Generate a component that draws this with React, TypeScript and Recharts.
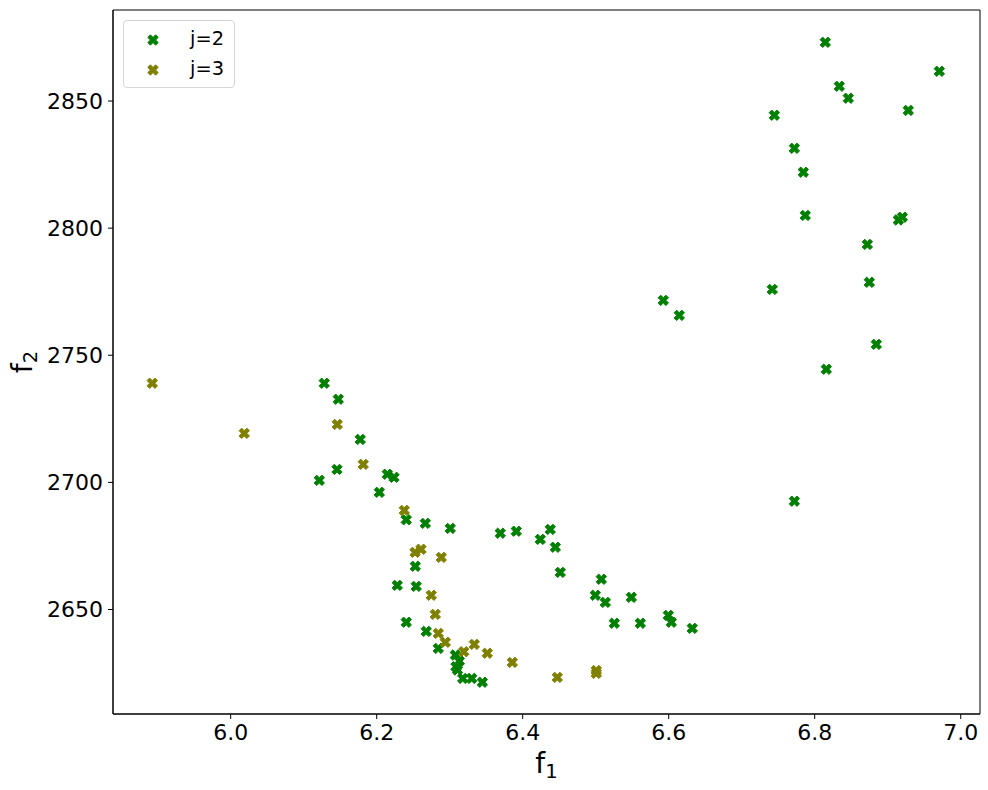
import { ScatterChart, Scatter, XAxis, YAxis, ReferenceArea, Legend } from 'recharts'

// j=2 series (green)
const j2F1 = [
  6.1282, 6.1474, 6.1775, 6.1456, 6.1214, 6.2145, 6.2237, 6.2036, 6.2405, 6.2666,
  6.3008, 6.2529, 6.2282, 6.2542, 6.2405, 6.2679, 6.2844, 6.3077, 6.3132, 6.3086,
  6.3107, 6.3178, 6.3301, 6.3447, 6.3693, 6.3912, 6.4241, 6.4378, 6.4447, 6.4515,
  6.5077, 6.4995, 6.5132, 6.5488, 6.5255, 6.5611, 6.5995, 6.6036, 6.6323, 6.8145,
  6.9707, 6.8337, 6.846, 6.9282, 6.7447, 6.7721, 6.7844, 6.7871, 6.9145, 6.92,
  6.8721, 6.8748, 6.7419, 6.5926, 6.6145, 6.8844, 6.8159, 6.7721,
]
const j2F2 = [
  2739.0, 2732.7, 2716.9, 2705.1, 2700.8, 2703.2, 2702.0, 2696.1, 2685.3, 2683.9,
  2681.9, 2667.0, 2659.5, 2659.1, 2645.0, 2641.4, 2634.7, 2632.1, 2629.7, 2627.5,
  2626.2, 2622.9, 2622.9, 2621.4, 2680.0, 2680.8, 2677.6, 2681.5, 2674.5, 2664.6,
  2661.9, 2655.6, 2652.8, 2654.8, 2644.6, 2644.6, 2647.7, 2645.0, 2642.6, 2873.1,
  2861.7, 2855.8, 2851.1, 2846.3, 2844.4, 2831.4, 2822.0, 2805.0, 2803.2, 2804.3,
  2793.6, 2778.7, 2775.9, 2771.6, 2765.7, 2754.3, 2744.5, 2692.6,
]

// j=3 series (olive)
const j3F1 = [
  5.8926, 6.0186, 6.146, 6.1816, 6.2378, 6.2525, 6.2607, 6.2885, 6.2748, 6.2803,
  6.2844, 6.294, 6.3337, 6.3192, 6.3515, 6.3858, 6.4474, 6.5008, 6.5008,
]
const j3F2 = [
  2739.0, 2719.3, 2722.8, 2707.1, 2689.0, 2672.5, 2673.7, 2670.5, 2655.6, 2648.1,
  2640.6, 2637.1, 2636.3, 2633.4, 2632.8, 2629.2, 2623.3, 2626.0, 2624.9,
]

const xTicks = [6.0, 6.2, 6.4, 6.6, 6.8, 7.0]
const yTicks = [2650, 2700, 2750, 2800, 2850]
const xDomain: [number, number] = [5.8388, 7.0264]
const yDomain: [number, number] = [2608.9, 2885.8]

const seriesNames = ['j=2', 'j=3']
const seriesColors = ['#008000', '#808000']

const FONT = '"DejaVu Sans", sans-serif'
const MARKER = 11

const toPoints = (xs: number[], ys: number[]) => xs.map((x, i) => ({ f1: x, f2: ys[i] }))
const j2Data = toPoints(j2F1, j2F2)
const j3Data = toPoints(j3F1, j3F2)

// matplotlib style filled "X" marker: a plus rotated by 45 degrees
function xMarkerPath(cx: number, cy: number, s: number) {
  const L = s / 2
  const w = s / 6
  const pts = [
    [L, w], [w, w], [w, L], [-w, L], [-w, w], [-L, w],
    [-L, -w], [-w, -w], [-w, -L], [w, -L], [w, -w], [L, -w],
  ]
  const c = Math.SQRT1_2
  return pts
    .map(([px, py], i) => {
      const rx = (px - py) * c
      const ry = (px + py) * c
      return `${i === 0 ? 'M' : 'L'}${(cx + rx).toFixed(2)},${(cy + ry).toFixed(2)}`
    })
    .join(' ') + ' Z'
}

const makeShape = (color: string) => (props: any) => {
  const { cx, cy } = props
  if (cx == null || cy == null) return <g />
  return <path d={xMarkerPath(cx, cy, MARKER)} fill={color} stroke={color} strokeWidth={1} />
}

const renderLegend = () => (
  <div
    style={{
      width: 110,
      height: 66,
      border: '1px solid #d6d6d6',
      borderRadius: 4,
      background: 'rgba(255,255,255,0.8)',
      fontFamily: FONT,
      fontSize: 19.4,
      color: '#000',
      boxSizing: 'content-box',
    }}
  >
    {seriesNames.map((name, i) => (
      <div key={name} style={{ position: 'relative', height: 30, top: 4 }}>
        <svg width={24} height={24} style={{ position: 'absolute', left: 17, top: 3 }}>
          <path d={xMarkerPath(12, 12, MARKER)} fill={seriesColors[i]} stroke={seriesColors[i]} strokeWidth={1} />
        </svg>
        <span style={{ position: 'absolute', left: 66, top: 2, lineHeight: '24px' }}>{name}</span>
      </div>
    ))}
  </div>
)

const XLabel = () => (
  <text x={546.5} y={773} textAnchor="middle" fontFamily={FONT} fontSize={28} fill="#000">
    f<tspan fontSize={19.5} dy={5}>1</tspan>
  </text>
)

const YLabel = () => (
  <text
    x={32}
    y={362}
    transform="rotate(-90, 32, 362)"
    textAnchor="middle"
    fontFamily={FONT}
    fontSize={28}
    fill="#000"
  >
    f<tspan fontSize={19.5} dy={5}>2</tspan>
  </text>
)

export default function App() {
  return (
    <div style={{ position: 'absolute', left: 0, top: 0, background: '#fff' }}>
      <ScatterChart width={988} height={790} margin={{ top: 10, right: 8, bottom: 0, left: 0 }}>
        <XAxis
          type="number"
          dataKey="f1"
          domain={xDomain}
          ticks={xTicks}
          allowDataOverflow
          height={76}
          tickSize={5}
          tickMargin={5}
          tickFormatter={(v: number) => v.toFixed(1)}
          tick={{ fontSize: 22, fill: '#000', fontFamily: FONT }}
          tickLine={{ stroke: '#000' }}
          axisLine={{ stroke: '#000' }}
          label={{ content: () => <XLabel /> }}
        />
        <YAxis
          type="number"
          dataKey="f2"
          domain={yDomain}
          ticks={yTicks}
          allowDataOverflow
          width={113}
          tickSize={5}
          tickMargin={5}
          tick={{ fontSize: 22, fill: '#000', fontFamily: FONT }}
          tickLine={{ stroke: '#000' }}
          axisLine={{ stroke: '#000' }}
          label={{ content: () => <YLabel /> }}
        />
        <ReferenceArea
          x1={xDomain[0]}
          x2={xDomain[1]}
          y1={yDomain[0]}
          y2={yDomain[1]}
          fill="none"
          stroke="#000"
          strokeWidth={1}
          ifOverflow="visible"
        />
        <Legend
          layout="vertical"
          align="center"
          verticalAlign="middle"
          content={renderLegend}
          wrapperStyle={{ position: 'absolute', left: 123, top: 20, width: 112, height: 68 }}
        />
        <Scatter
          name={seriesNames[0]}
          data={j2Data}
          fill={seriesColors[0]}
          shape={makeShape(seriesColors[0])}
          isAnimationActive={false}
        />
        <Scatter
          name={seriesNames[1]}
          data={j3Data}
          fill={seriesColors[1]}
          shape={makeShape(seriesColors[1])}
          isAnimationActive={false}
        />
      </ScatterChart>
    </div>
  )
}
